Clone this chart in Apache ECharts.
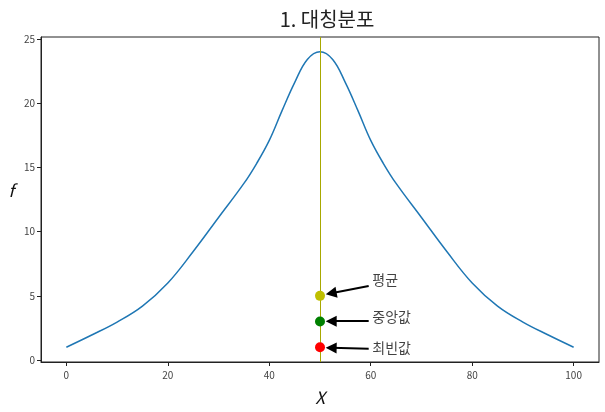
<!DOCTYPE html>
<html>
<head>
<meta charset="utf-8">
<script src="https://cdn.jsdelivr.net/npm/echarts@6/dist/echarts.min.js"></script>
<style>html,body{margin:0;padding:0;background:#fff}#c{width:605px;height:412px}</style>
</head>
<body>
<div id="c"></div>
<script>
// Curve (symmetric distribution)
const curveX = [0, 5, 10, 15, 20, 25, 30, 35, 37.5, 40, 42.5, 45, 47.5, 50, 52.5, 55, 57.5, 60, 62.5, 65, 70, 75, 80, 85, 90, 95, 100];
const curveY = [1.0, 1.95, 2.96, 4.2, 6.0, 8.45, 11.1, 13.75, 15.3, 17.1, 19.4, 21.6, 23.4, 24.0, 23.4, 21.6, 19.4, 17.1, 15.3, 13.75, 11.1, 8.45, 6.0, 4.2, 2.96, 1.95, 1.0];
// Mean / median / mode
const statNames = ['평균', '중앙값', '최빈값'];
const statX = [50, 50, 50];
const statY = [5, 3, 1];
const statColors = ['#bfbf00', '#008000', '#ff0000'];
// Annotation text anchors and arrow ends (data coordinates)
const textX = [60.3, 60.3, 60.3];
const textY = [6.28, 3.4, 0.95];
const arrowTail = [[59.6, 5.76], [59.6, 3.03], [59.6, 0.89]];
const arrowHead = [[52.2, 5.2], [52.2, 3.03], [52.2, 0.95]];
const xTicks = [0, 20, 40, 60, 80, 100];
const yTicks = [0, 5, 10, 15, 20, 25];

const FONT = '"Noto Sans CJK KR", "Noto Sans", sans-serif';
const chart = echarts.init(document.getElementById('c'), null, {renderer: 'canvas'});
const axisCommon = {
  type: 'value',
  axisLine: {show: true, onZero: false, lineStyle: {color: '#222', width: 1}},
  axisTick: {show: true, inside: false, length: 4, lineStyle: {color: '#222'}},
  splitLine: {show: false},
  axisLabel: {color: '#444', fontSize: 10, fontFamily: FONT},
};
chart.setOption({
  animation: false,
  title: {
    text: '1. 대칭분포', left: 322, top: 4, textAlign: 'center',
    textStyle: {fontSize: 20, fontWeight: 'normal', color: '#222', fontFamily: FONT}
  },
  grid: {left: 41, right: 6, top: 37, bottom: 50, show: true, borderColor: '#222', borderWidth: 1},
  xAxis: Object.assign({}, axisCommon, {
    min: -5, max: 105,
    axisTick: Object.assign({}, axisCommon.axisTick, {customValues: xTicks}),
    axisLabel: Object.assign({}, axisCommon.axisLabel, {customValues: xTicks, margin: 8}),
    name: 'X', nameLocation: 'middle', nameGap: 27,
    nameTextStyle: {fontSize: 17, fontStyle: 'italic', color: '#111', fontFamily: FONT}
  }),
  yAxis: Object.assign({}, axisCommon, {
    min: -0.15, max: 25.15,
    axisTick: Object.assign({}, axisCommon.axisTick, {customValues: yTicks}),
    axisLabel: Object.assign({}, axisCommon.axisLabel, {customValues: yTicks, margin: 6}),
    name: 'f', nameLocation: 'middle', nameGap: 27, nameRotate: 0,
    nameTextStyle: {fontSize: 17, fontStyle: 'italic', color: '#111', fontFamily: FONT, verticalAlign: 'bottom'}
  }),
  series: [
    {
      type: 'line', smooth: 0.4, showSymbol: false,
      data: curveX.map((x, i) => [x, curveY[i]]),
      lineStyle: {color: '#1f77b4', width: 1.5},
      markLine: {
        silent: true, symbol: 'none', label: {show: false},
        lineStyle: {color: '#a8a800', width: 1, type: 'solid'},
        data: [{xAxis: statX[0]}]
      }
    },
    {
      type: 'lines', coordinateSystem: 'cartesian2d',
      symbol: ['none', 'triangle'], symbolSize: [0, 11],
      lineStyle: {color: '#000', width: 2, opacity: 1, curveness: 0},
      data: arrowTail.map((t, i) => ({coords: [t, arrowHead[i]]})),
      z: 4
    },
    {
      type: 'scatter', symbolSize: 10, z: 5,
      data: statX.map((x, i) => ({value: [x, statY[i]], itemStyle: {color: statColors[i], opacity: 1}}))
    },
    {
      type: 'scatter', symbolSize: 0, silent: true,
      data: textX.map((x, i) => ({value: [x, textY[i]], name: statNames[i]})),
      label: {
        show: true, position: 'right', distance: 0, formatter: p => p.name,
        color: '#111', fontSize: 14, fontFamily: FONT
      }
    }
  ]
});
</script>
</body>
</html>
